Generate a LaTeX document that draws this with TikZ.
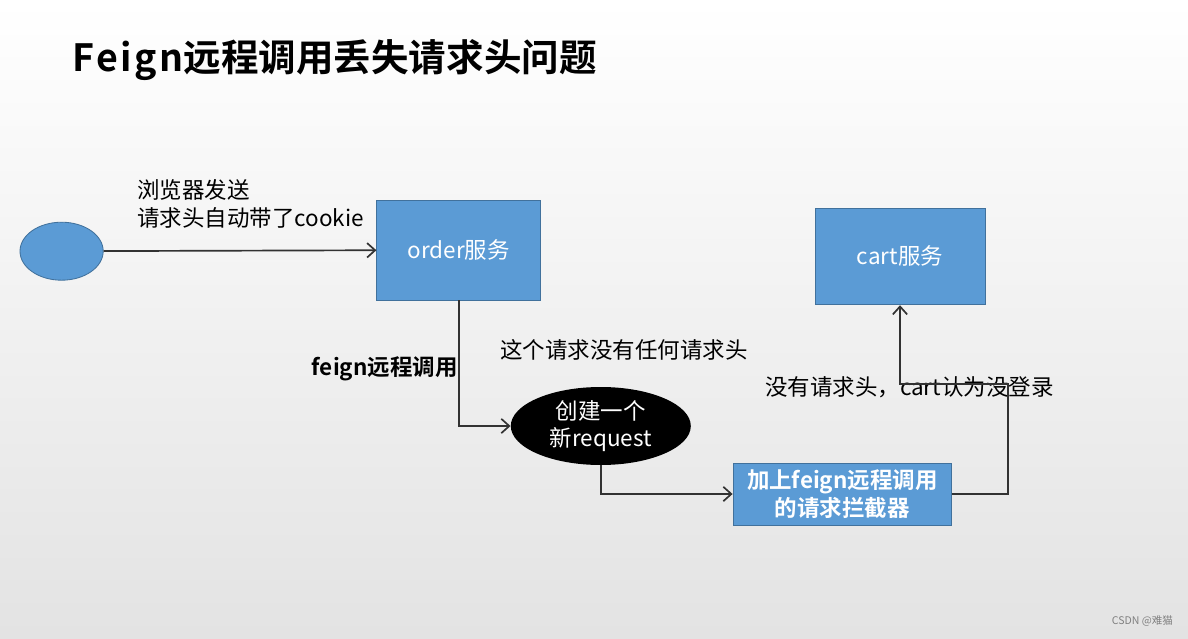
\documentclass[tikz,border=0pt]{standalone}
\usepackage{fontspec}
\setmainfont{Noto Sans CJK SC}[BoldFont={Noto Sans CJK SC Bold}]
\usetikzlibrary{shapes.geometric,arrows.meta}

\begin{document}
\begin{tikzpicture}[font=\fontsize{16}{19.5}\selectfont,
		service/.style={draw=boxborder, fill=boxblue, text=white, line width=0.6pt},
		flow/.style={draw=linegray, line width=1.2pt, -{Straight Barb[length=2mm,width=3.6mm]}},
		note/.style={inner sep=0pt, align=left}]
		% Define colors
		\definecolor{boxblue}{RGB}{91,155,213}
		\definecolor{boxborder}{RGB}{65,113,156}
		\definecolor{linegray}{RGB}{50,50,50}
		% Background
		\useasboundingbox (0,0) rectangle (29.7,15.95);
		\shade[top color=white, bottom color=black!11] (0,0) rectangle (29.7,15.95);
		% Title
		\node[anchor=west, inner sep=0pt, font=\fontsize{26.7}{32}\selectfont\bfseries] (title) at (1.8,14.45)
			{{\addfontfeature{LetterSpace=7}Feign}远程调用丢失请求头问题};
		% Browser
		\node[service, ellipse, inner sep=0pt, minimum width=2.08cm, minimum height=1.45cm] (browser) at (1.54,9.67) {};
		\node[note, anchor=west] (sendtext) at (3.42,10.85) {浏览器发送\\请求头自动带了cookie};
		% order and cart services
		\node[service, minimum width=4.1cm, minimum height=2.5cm] (order) at (11.47,9.7) {order服务};
		\node[service, minimum width=4.25cm, minimum height=2.42cm] (cart) at (22.5,9.54) {cart服务};
		% New request
		\node[ellipse, fill=black, text=white, inner sep=0pt, align=center, minimum width=4.5cm, minimum height=1.95cm] (req) at (15.02,5.3) {创建一个\\新request};
		% Interceptor
		\node[service, font=\fontsize{16}{19.5}\selectfont\bfseries, align=center, inner sep=0pt, minimum width=5.47cm, minimum height=1.55cm] (inter) at (21.06,3.6) {加上feign远程调用\\的请求拦截器};
		% Labels
		\node[note, anchor=east, font=\fontsize{16}{19.5}\selectfont\bfseries] (feigntext) at (11.45,6.72) {feign远程调用};
		\node[note, anchor=west] (noheadtext) at (12.5,7.2) {这个请求没有任何请求头};
		\node[note, anchor=west] (carttext) at (19.12,6.27) {没有请求头，cart认为没登录};
		% Connectors
		\coordinate (turn) at (25.2,6.35);
		\draw[flow] (browser) -- (order);
		\draw[flow] (order.south) |- (req.west);
		\draw[flow] (req.south) |- (inter.west);
		\draw[flow] (inter.east) -| (turn) -| (cart.south);
		% Watermark
		\node[anchor=east, inner sep=0pt, text=black!50, font=\fontsize{7.5}{9}\selectfont] (mark) at (29.33,0.42) {CSDN @难猫};
	\end{tikzpicture}
\end{document}
